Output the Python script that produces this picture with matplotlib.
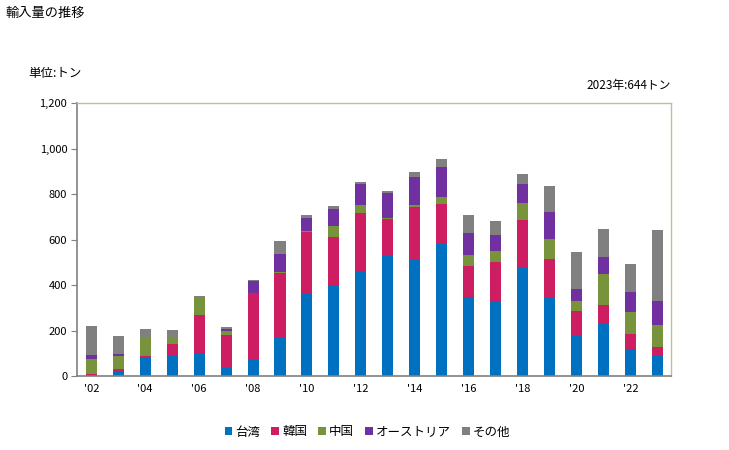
import matplotlib
matplotlib.use("Agg")
import matplotlib.pyplot as plt
import numpy as np
from matplotlib.patches import Patch

plt.rcParams['font.family'] = ['Noto Sans CJK JP', 'DejaVu Sans']

years = list(range(2002, 2024))
taiwan = [2, 22, 81, 92, 101, 37, 72, 169, 362, 398, 462, 532, 515, 582, 348, 327, 477, 345, 178, 230, 119, 89]
korea = [7, 9, 8, 49, 167, 143, 293, 284, 272, 214, 255, 159, 229, 175, 136, 175, 210, 170, 108, 82, 66, 39]
china = [66, 57, 80, 31, 75, 18, 1, 5, 4, 48, 36, 4, 9, 31, 48, 48, 74, 88, 44, 137, 97, 96]
austria = [17, 9, 0, 0, 0, 10, 53, 79, 57, 75, 92, 110, 123, 132, 97, 70, 84, 119, 53, 75, 88, 106]
others = [128, 79, 38, 30, 9, 8, 4, 57, 13, 13, 9, 9, 22, 35, 79, 62, 44, 114, 163, 123, 123, 314]

series_names = ['台湾', '韓国', '中国', 'オーストリア', 'その他']
colors = ['#0070c0', '#cc1e60', '#77933c', '#7030a0', '#808080']
data = [taiwan, korea, china, austria, others]

fig = plt.figure(figsize=(7.29, 4.5), dpi=100)
ax = fig.add_axes([0.1056, 0.1644, 0.8144, 0.6067])

x = np.array(years)
bottom = np.zeros(len(years))
for vals, c in zip(data, colors):
    ax.bar(x, vals, width=0.41, bottom=bottom, color=c, linewidth=0)
    bottom += np.array(vals)

ax.set_xlim(2001.47, 2023.49)
ax.set_ylim(0, 1200)
ax.set_yticks(range(0, 1201, 200))
ax.set_yticklabels([f"{v:,}" for v in range(0, 1201, 200)], fontsize=8)
xt = list(range(2002, 2024, 2))
ax.set_xticks(xt)
ax.set_xticklabels([f"'{y % 100:02d}" for y in xt], fontsize=8)
ax.tick_params(axis='x', length=0, pad=6)
ax.tick_params(axis='y', length=4, color='#808080', direction='out', pad=3)

for s in ['left', 'bottom']:
    ax.spines[s].set_color('#808080')
    ax.spines[s].set_linewidth(1.2)
for s in ['top', 'right']:
    ax.spines[s].set_color('#c4bd97')
    ax.spines[s].set_linewidth(1.0)

fig.text(5/729, 1 - 13/450, '輸入量の推移', fontsize=9.5, va='center', ha='left')
fig.text(28/729, 1 - 73/450, '単位:トン', fontsize=9, va='center', ha='left')
fig.text(671/729, 1 - 86/450, '2023年:644トン', fontsize=8.5, va='center', ha='right')

handles = [Patch(facecolor=c, edgecolor='none') for c in colors]
fig.legend(handles, series_names, loc='center', bbox_to_anchor=(0.504, 1 - 432/450),
           ncol=5, frameon=False, fontsize=9, handlelength=0.6, handleheight=0.6,
           handletextpad=0.25, columnspacing=0.9)

fig.savefig('out.png', dpi=100)
